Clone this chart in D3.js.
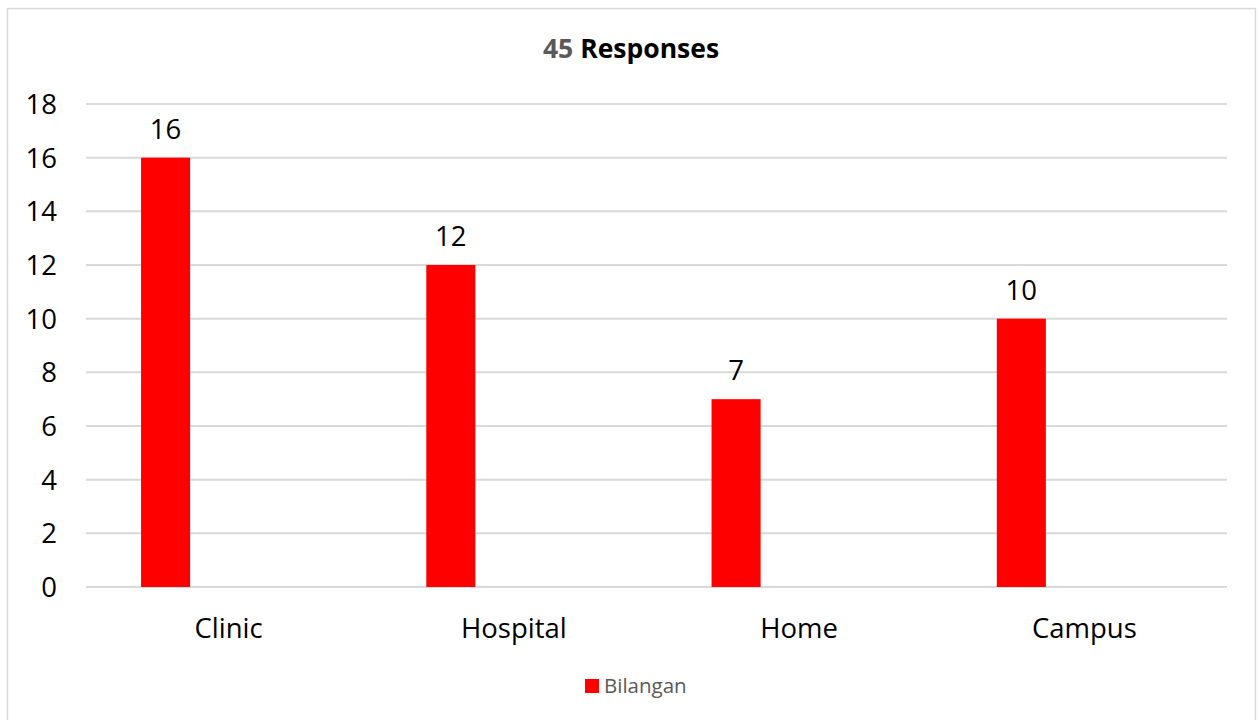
<!DOCTYPE html>
<html>
<head>
<meta charset="utf-8">
<script src="https://cdn.jsdelivr.net/npm/d3@7"></script>
<style>
  html, body { margin: 0; padding: 0; background: #fff; }
  svg { display: block; }
  text { font-family: "Open Sans", "Noto Sans", sans-serif; }
</style>
</head>
<body>
<svg id="chart" width="1258" height="720"></svg>
<script>
// Data
const categories = ["Clinic", "Hospital", "Home", "Campus"];
const counts = [16, 12, 7, 10];
const yTicks = [0, 2, 4, 6, 8, 10, 12, 14, 16, 18];
const seriesName = "Bilangan";
const titleCount = "45";
const titleText = " Responses";

const W = 1258, H = 720;
const margin = { left: 86, right: 31, top: 104, bottom: 133 };
const labelSize = "27.5px";
const svg = d3.select("#chart");

// Chart frame
svg.append("rect")
  .attr("x", 7.5).attr("y", 8.5)
  .attr("width", 1248).attr("height", 720)
  .attr("fill", "#fff").attr("stroke", "#d9d9d9").attr("stroke-width", 1.5);

const x = d3.scaleBand()
  .domain(categories)
  .range([margin.left, W - margin.right])
  .padding(0);

const y = d3.scaleLinear()
  .domain([0, 18])
  .range([H - margin.bottom, margin.top]);

// Gridlines
svg.append("g")
  .selectAll("line")
  .data(yTicks)
  .join("line")
  .attr("x1", margin.left).attr("x2", W - margin.right)
  .attr("y1", d => y(d)).attr("y2", d => y(d))
  .attr("stroke", "#d9d9d9").attr("stroke-width", 2);

// Y axis labels
const yAxis = d3.axisLeft(y).tickValues(yTicks).tickSize(0).tickPadding(0);
const gy = svg.append("g").attr("transform", `translate(${margin.left - 29},0)`).call(yAxis);
gy.select(".domain").remove();
gy.selectAll("text")
  .attr("fill", "#000")
  .style("font-size", labelSize)
  .attr("dy", "0.35em");

// X axis labels
const xAxis = d3.axisBottom(x).tickSize(0).tickPadding(0);
const gx = svg.append("g").attr("transform", `translate(0,${y(0) + 51})`).call(xAxis);
gx.select(".domain").remove();
gx.selectAll("text")
  .attr("fill", "#000")
  .style("font-size", labelSize)
  .attr("y", 0)
  .attr("dy", 0);

// Bars sit in the first slot of each category
const barOffset = 0.193, barWidth = 0.172;
const bw = x.bandwidth();
svg.append("g")
  .selectAll("rect")
  .data(categories.map((c, i) => ({ c, v: counts[i] })))
  .join("rect")
  .attr("x", d => x(d.c) + bw * barOffset)
  .attr("y", d => y(d.v))
  .attr("width", bw * barWidth)
  .attr("height", d => y(0) - y(d.v))
  .attr("fill", "#ff0000");

// Value labels
svg.append("g")
  .selectAll("text")
  .data(categories.map((c, i) => ({ c, v: counts[i] })))
  .join("text")
  .attr("x", d => x(d.c) + bw * (barOffset + barWidth / 2))
  .attr("y", d => y(d.v) - 19)
  .attr("text-anchor", "middle")
  .style("font-size", labelSize)
  .attr("fill", "#000")
  .text(d => d.v);

// Title
const title = svg.append("text")
  .attr("x", 631).attr("y", 58)
  .attr("text-anchor", "middle")
  .style("font-size", "26.5px")
  .style("font-weight", "bold");
title.append("tspan").attr("fill", "#595959").text(titleCount);
title.append("tspan").attr("fill", "#000").text(titleText);

// Legend
const lg = svg.append("g").attr("transform", "translate(585,679)");
lg.append("rect").attr("width", 14).attr("height", 14).attr("fill", "#ff0000");
lg.append("text")
  .attr("x", 19).attr("y", 14)
  .style("font-size", "20.5px")
  .attr("fill", "#595959")
  .text(seriesName);
</script>
</body>
</html>
